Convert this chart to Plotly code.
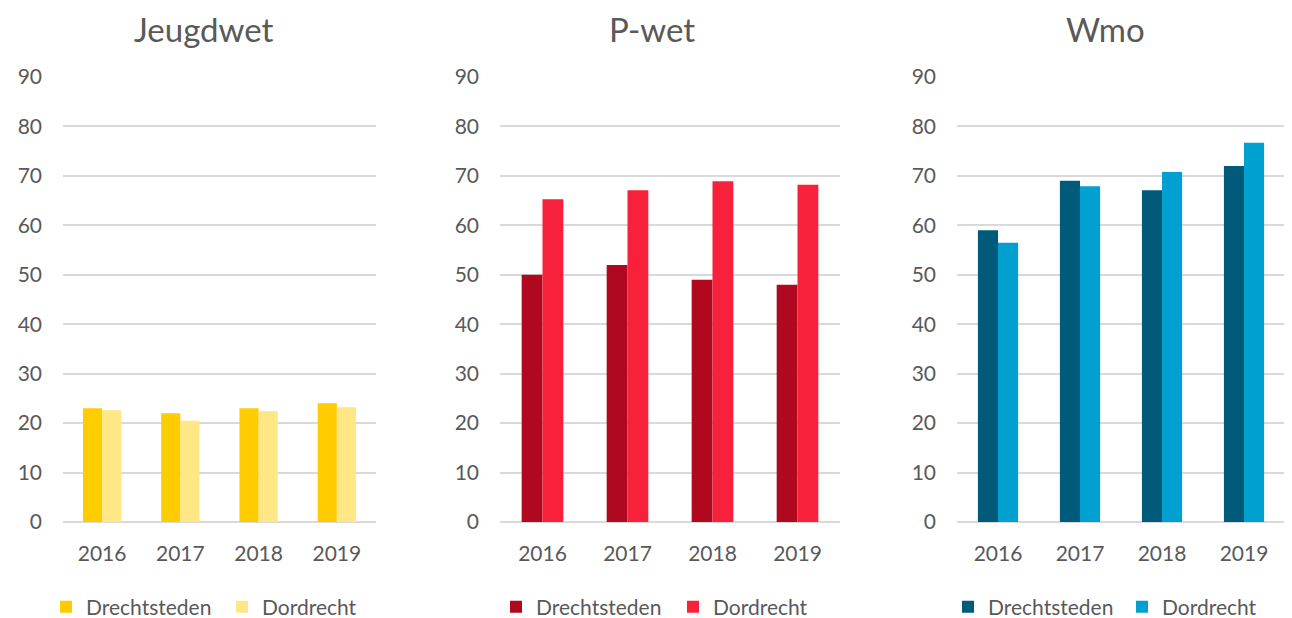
import plotly.graph_objects as go

years = ["2016", "2017", "2018", "2019"]
series_names = ["Drechtsteden", "Dordrecht"]
titles = ["Jeugdwet", "P-wet", "Wmo"]

jeugdwet_drechtsteden = [23, 22, 23, 24]
jeugdwet_dordrecht = [22.6, 20.5, 22.4, 23.2]
pwet_drechtsteden = [50, 52, 49, 48]
pwet_dordrecht = [65.3, 67.1, 68.9, 68.2]
wmo_drechtsteden = [59, 69, 67.1, 72]
wmo_dordrecht = [56.5, 67.9, 70.8, 76.7]
y_ticks = [0, 10, 20, 30, 40, 50, 60, 70, 80, 90]

# page body margin offset (browser default)
OFF = 8
W, H = 1292 - OFF, 618 - OFF
FONT = "Lato"
TXT = "#595959"
GRID = "#D9D9D9"


def xp(px):
    return (px - OFF) / W


def yp(py):
    return (H - (py - OFF)) / H


panels = [
    (jeugdwet_drechtsteden, jeugdwet_dordrecht, ["#FFCC00", "#FFE785"], (63, 376), 204, 46, 131),
    (pwet_drechtsteden, pwet_dordrecht, ["#B0081E", "#F8213B"], (500, 840), 652, 496, 132),
    (wmo_drechtsteden, wmo_dordrecht, ["#005B7B", "#00A1D0"], (957, 1285), 1105, 948, 129),
]

fig = go.Figure()
layout = dict(
    width=W, height=H,
    margin=dict(l=0, r=0, t=0, b=0, autoexpand=False),
    paper_bgcolor="white", plot_bgcolor="white",
    barmode="group", bargap=0.51, bargroupgap=0,
    font=dict(family=FONT, color=TXT, size=21),
    annotations=[],
)

for i, (d1, d2, cols, (x0, x1), tx, lx, ew) in enumerate(panels):
    n = "" if i == 0 else str(i + 1)
    leg = "legend" + n
    for vals, name, col in zip([d1, d2], series_names, cols):
        fig.add_trace(go.Bar(
            x=years, y=vals, name=name, marker=dict(color=col, line=dict(width=0)),
            xaxis="x" + n, yaxis="y" + n, legend=leg, offsetgroup=name,
        ))
    layout["xaxis" + n] = dict(
        domain=[xp(x0), xp(x1)], anchor="y" + n, showgrid=False, showline=False,
        zeroline=False, ticks="", ticklabelstandoff=17,
        tickfont=dict(family=FONT, color=TXT, size=21),
    )
    layout["yaxis" + n] = dict(
        domain=[yp(522), yp(77)], anchor="x" + n, range=[0, 90], tickvals=y_ticks,
        showgrid=True, gridcolor=GRID, gridwidth=2, zeroline=True, zerolinecolor=GRID,
        zerolinewidth=2, showline=False, ticks="", ticklabelstandoff=20,
        tickfont=dict(family=FONT, color=TXT, size=21),
    )
    layout[leg] = dict(
        orientation="h", x=xp(lx), xanchor="left", y=yp(607), yanchor="middle",
        entrywidth=ew, entrywidthmode="pixels",
        font=dict(family=FONT, color=TXT, size=21), bgcolor="rgba(0,0,0,0)",
    )
    layout["annotations"].append(dict(
        text=titles[i], x=xp(tx), y=1, xref="paper", yref="paper",
        xanchor="center", yanchor="top", showarrow=False, borderpad=0,
        font=dict(family=FONT, color=TXT, size=33),
    ))

fig.update_layout(**layout)
fig.write_html("out.html")
